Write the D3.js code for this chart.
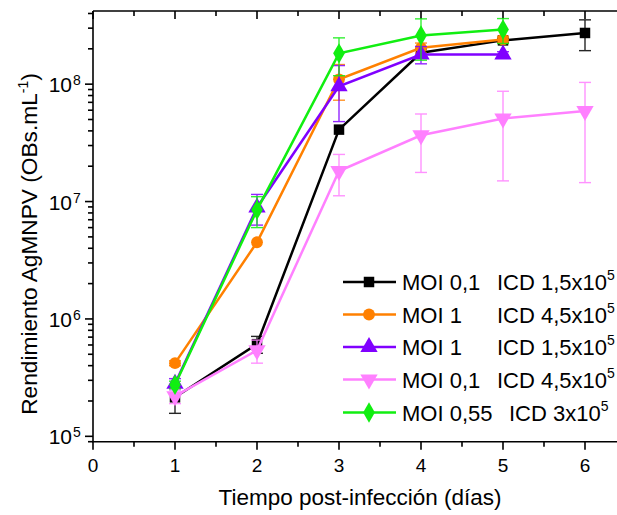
<!DOCTYPE html>
<html>
<head>
<meta charset="utf-8">
<script src="https://cdn.jsdelivr.net/npm/d3@7/dist/d3.min.js"></script>
<style>
    body { margin: 0; background: #fff; }
    svg { display: block; font-family: "Liberation Sans", Arial, sans-serif; }
</style>
</head>
<body>
<svg id="chart" width="617" height="515"></svg>
<script>
// -----------------------------
//  DATA
// -----------------------------
const days = [1, 2, 3, 4, 5, 6];

const seriesNames = [
    ["MOI 0,1", "ICD 1,5x10", "5"],
    ["MOI 1", "ICD 4,5x10", "5"],
    ["MOI 1", "ICD 1,5x10", "5"],
    ["MOI 0,1", "ICD 4,5x10", "5"],
    ["MOI 0,55", "ICD 3x10", "5"]
];

// OBs/mL, mean and SD per day
const moi01icd15 = [2.15e5, 6.1e5, 4.1e7, 1.85e8, 2.36e8, 2.73e8];
const moi01icd15Err = [0.58e5, 1.0e5, 0, 0.15e8, 0.1e8, 0.8e8];

const moi1icd45 = [4.2e5, 4.5e6, 1.1e8, 2.04e8, 2.4e8];
const moi1icd45Err = [0.2e5, 0, 0.37e8, 0.2e8, 0.15e8];

const moi1icd15 = [2.8e5, 8.9e6, 9.6e7, 1.79e8, 1.79e8];
const moi1icd15Err = [0.3e5, 2.6e6, 4.8e7, 0.3e8, 0.1e8];

const moi01icd45 = [2.2e5, 5.4e5, 1.82e7, 3.67e7, 5.1e7, 5.9e7];
const moi01icd45Err = [0.3e5, 1.2e5, 0.7e7, 1.9e7, 3.6e7, 4.45e7];

const moi055icd3 = [2.75e5, 8.5e6, 1.83e8, 2.6e8, 2.92e8];
const moi055icd3Err = [0.2e5, 2.5e6, 0.65e8, 1.0e8, 0.7e8];

const xTicks = [0, 1, 2, 3, 4, 5, 6];
const yTicks = [1e5, 1e6, 1e7, 1e8];

// -----------------------------
//  SERIES TABLE
// -----------------------------
const colors = ["#000000", "#ff8000", "#8000ff", "#ff80ff", "#11ee11"];
const symbols = [d3.symbolSquare, d3.symbolCircle, d3.symbolTriangle, "down", d3.symbolDiamond];
const allVals = [moi01icd15, moi1icd45, moi1icd15, moi01icd45, moi055icd3];
const allErrs = [moi01icd15Err, moi1icd45Err, moi1icd15Err, moi01icd45Err, moi055icd3Err];

const series = allVals.map((vals, i) => ({
    color: colors[i],
    symbol: symbols[i],
    name: seriesNames[i],
    points: vals.map((v, j) => ({ day: days[j], v: v, e: allErrs[i][j] }))
}));

// -----------------------------
//  LAYOUT / SCALES
// -----------------------------
const svg = d3.select("#chart");
const margin = { left: 93, top: 11, bottom: 441.7 };

const x = d3.scaleLinear().domain([0, 7]).range([margin.left, 667]);
const y = d3.scaleLog().domain([9e4, 4.2e8]).range([margin.bottom, margin.top]);

// -----------------------------
//  AXES
// -----------------------------
const axisG = svg.append("g").attr("stroke", "#000").attr("stroke-width", 1.6);

// frame lines
axisG.append("line").attr("x1", margin.left).attr("x2", margin.left)
    .attr("y1", margin.top).attr("y2", margin.bottom);
axisG.append("line").attr("x1", margin.left).attr("x2", 667)
    .attr("y1", margin.top).attr("y2", margin.top);
axisG.append("line").attr("x1", margin.left - 1).attr("x2", 667)
    .attr("y1", margin.bottom).attr("y2", margin.bottom);

// x ticks, bottom (out) and top (in)
const halfTicks = d3.range(0, 7.01, 0.5);
halfTicks.forEach((t) => {
    const len = Number.isInteger(t) ? 8 : 5;
    axisG.append("line").attr("x1", x(t)).attr("x2", x(t))
        .attr("y1", margin.bottom).attr("y2", margin.bottom + len);
    axisG.append("line").attr("x1", x(t)).attr("x2", x(t))
        .attr("y1", margin.top).attr("y2", margin.top + len);
});

// y ticks, left, log minor
const [y0, y1] = y.domain();
for (let dec = 1e4; dec <= 1e9; dec *= 10) {
    for (let k = 1; k <= 9; k++) {
        const v = dec * k;
        if (v < y0 || v > y1) continue;
        const len = k === 1 ? 8 : 5;
        axisG.append("line").attr("x1", margin.left - len).attr("x2", margin.left)
            .attr("y1", y(v)).attr("y2", y(v));
    }
}

// tick labels
svg.append("g").selectAll("text")
    .data(xTicks)
    .enter()
    .append("text")
    .attr("x", (d) => x(d))
    .attr("y", 472)
    .attr("text-anchor", "middle")
    .attr("font-size", 19)
    .text((d) => d);

svg.append("g").selectAll("text")
    .data(yTicks)
    .enter()
    .append("text")
    .attr("x", 72)
    .attr("y", (d) => y(d) + 8)
    .attr("text-anchor", "end")
    .attr("font-size", 21)
    .text("10");
svg.append("g").selectAll("text")
    .data(yTicks)
    .enter()
    .append("text")
    .attr("x", 73)
    .attr("y", (d) => y(d) + 1)
    .attr("font-size", 14)
    .text((d) => Math.round(Math.log10(d)));

// axis titles
svg.append("text")
    .attr("x", 360)
    .attr("y", 505)
    .attr("text-anchor", "middle")
    .attr("font-size", 22.5)
    .text("Tiempo post-infección (días)");

const yTitle = svg.append("text")
    .attr("transform", "translate(37,244) rotate(-90)")
    .attr("text-anchor", "middle")
    .attr("font-size", 22.7);
yTitle.append("tspan").text("Rendimiento AgMNPV (OBs.mL");
yTitle.append("tspan").attr("font-size", 14).attr("dy", -9).text("-1");
yTitle.append("tspan").attr("dy", 9).text(")");

// -----------------------------
//  MARKS
// -----------------------------
function symbolPath(sym, size) {
    if (sym === "down") return d3.symbol(d3.symbolTriangle, size)();
    return d3.symbol(sym, size)();
}
function symbolRot(sym) {
    return sym === "down" ? " rotate(180)" : "";
}
const symSize = (sym) => (sym === d3.symbolCircle ? 110 : sym === d3.symbolSquare ? 110 : sym === d3.symbolDiamond ? 120 : 130);

const line = d3.line().x((d) => x(d.day)).y((d) => y(d.v));

series.forEach((s) => {
    const g = svg.append("g");

    // error bars
    const eb = g.append("g").attr("stroke", s.color).attr("stroke-width", 1.4).attr("opacity", 0.85);
    s.points.filter((p) => p.e > 0).forEach((p) => {
        const top = y(p.v + p.e);
        const bot = y(Math.max(p.v - p.e, y0));
        eb.append("line").attr("x1", x(p.day)).attr("x2", x(p.day)).attr("y1", top).attr("y2", bot);
        eb.append("line").attr("x1", x(p.day) - 6).attr("x2", x(p.day) + 6).attr("y1", top).attr("y2", top);
        eb.append("line").attr("x1", x(p.day) - 6).attr("x2", x(p.day) + 6).attr("y1", bot).attr("y2", bot);
    });

    g.append("path")
        .datum(s.points)
        .attr("fill", "none")
        .attr("stroke", s.color)
        .attr("stroke-width", 2.5)
        .attr("d", line);

    g.selectAll("path.pt")
        .data(s.points)
        .enter()
        .append("path")
        .attr("class", "pt")
        .attr("transform", (d) => `translate(${x(d.day)},${y(d.v)})` + symbolRot(s.symbol))
        .attr("d", symbolPath(s.symbol, symSize(s.symbol)))
        .attr("fill", s.color);
});

// -----------------------------
//  LEGEND
// -----------------------------
const legend = svg.append("g");
const rowY = [282, 314.5, 347, 379.5, 412.5];
const icdX = [497, 497, 497, 497, 509];

series.forEach((s, i) => {
    const row = legend.append("g").attr("transform", `translate(0,${rowY[i]})`);
    row.append("line").attr("x1", 343).attr("x2", 396).attr("y1", 0).attr("y2", 0)
        .attr("stroke", s.color).attr("stroke-width", 2.5);
    row.append("path")
        .attr("transform", "translate(369,0)" + symbolRot(s.symbol))
        .attr("d", symbolPath(s.symbol, symSize(s.symbol)))
        .attr("fill", s.color);
    row.append("text").attr("x", 402).attr("y", 8).attr("font-size", 22).text(s.name[0]);
    const t = row.append("text").attr("x", icdX[i]).attr("y", 8).attr("font-size", 22);
    t.append("tspan").text(s.name[1]);
    t.append("tspan").attr("font-size", 14).attr("dy", -10).text(s.name[2]);
});
</script>
</body>
</html>
